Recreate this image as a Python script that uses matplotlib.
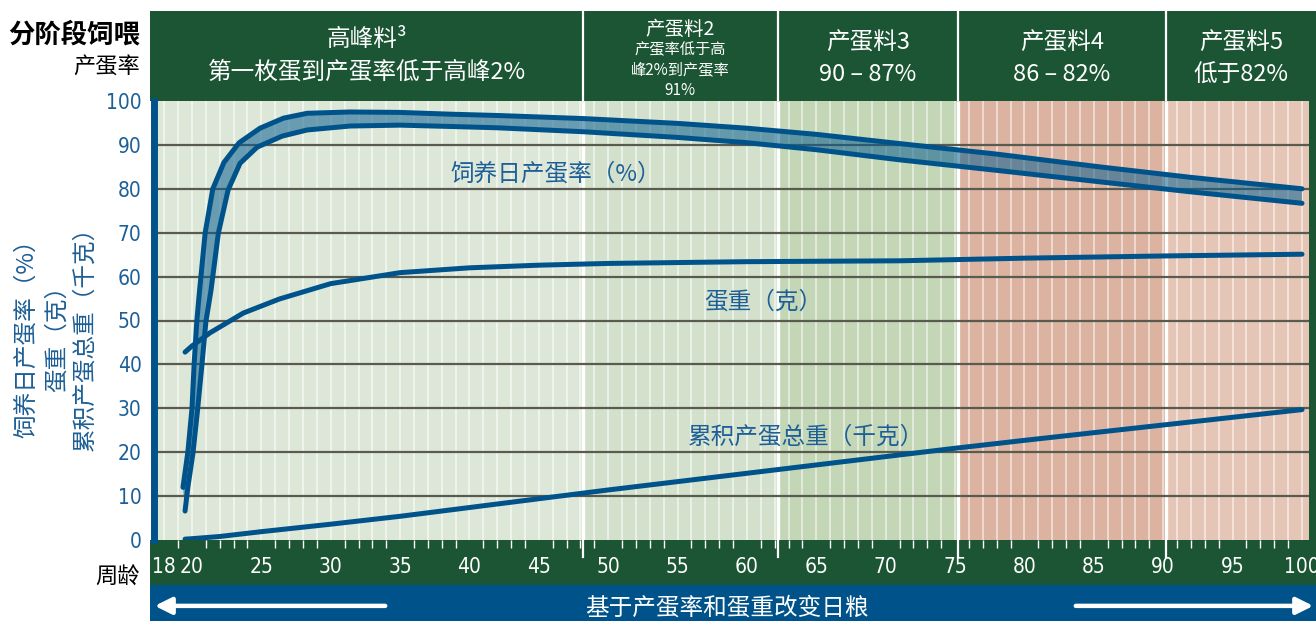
import numpy as np
import matplotlib.pyplot as plt
from matplotlib.patches import Rectangle

plt.rcParams['font.family'] = ['Noto Sans CJK SC', 'DejaVu Sans']

# ---- data ----
# daily egg production band, upper and lower curve (%)
weeks_up = [19.35, 19.7, 20.0, 20.15, 20.35, 20.55, 20.95, 21.5, 22.3, 23.4, 24.9, 26.6, 28.3, 31.4,
            35, 38.6, 42, 48.2, 55, 60, 65, 71, 78, 85.4, 92, 100]
prod_up = [12, 20, 30, 40, 50, 57, 70, 80, 86, 90.5, 93.8, 96.1, 97.2, 97.5,
           97.4, 97.0, 96.7, 96.0, 94.9, 93.8, 92.4, 90.3, 87.9, 85.0, 82.6, 80.0]
weeks_lo = [19.5, 19.7, 20.07, 20.4, 20.7, 21.0, 21.37, 21.9, 22.6, 23.46, 24.7, 26.5, 28.3, 31.4,
            35, 38.6, 42, 48.2, 55, 60, 65, 71, 78, 85.4, 92, 100]
prod_lo = [6.6, 12, 19.8, 29.6, 39.4, 49.7, 56.9, 69.9, 79.7, 85.8, 89.5, 92.0, 93.4, 94.3,
           94.5, 94.2, 93.9, 93.0, 91.7, 90.5, 88.9, 86.6, 84.2, 81.6, 79.3, 76.7]
# egg weight (g)
weeks_ew = [19.5, 20, 21.3, 23.7, 26.3, 30, 35, 40, 45, 50, 60, 71, 80, 90, 100]
egg_wt = [42.8, 44.2, 47.2, 51.7, 54.9, 58.4, 60.9, 62.0, 62.6, 63.0, 63.4, 63.6, 64.2, 64.7, 65.1]
# cumulative egg mass (kg)
weeks_cm = [19.5, 20, 22, 25, 30, 35, 40, 45, 50, 60, 70, 75, 80, 90, 100]
cum_mass = [0.2, 0.3, 0.8, 1.9, 3.6, 5.4, 7.4, 9.4, 11.4, 15.2, 19.0, 20.9, 22.7, 26.2, 29.7]

# feeding phases
phase_edges = [48.2, 62.2, 75.2, 90.2]
phase_bg = ['#dde7d8', '#d3e1cc', '#c3d6b6', '#dbb3a0', '#e5c6b6']
tick_weeks = [18, 20, 25, 30, 35, 40, 45, 50, 55, 60, 65, 70, 75, 80, 85, 90, 95, 100]

GREEN = '#1b5533'
BLUE = '#00538a'
TXT_BLUE = '#1d5f96'
NUM_FONT = dict(family='DejaVu Sans', stretch='condensed')

W = 1316
H = 621
def w_of(px):
    return 20 + (px - 192) / 13.875

def rect(l, t, r, b):
    return [l / W, 1 - b / H, (r - l) / W, (b - t) / H]

fig = plt.figure(figsize=(13.16, 6.21), dpi=100)

# header band
hx = fig.add_axes(rect(150, 11, 1316, 101))
hx.set_facecolor(GREEN)
hx.set_xlim(w_of(150), w_of(1316))
hx.set_ylim(0, 1)
hx.set_xticks([])
hx.set_yticks([])
for s in hx.spines.values():
    s.set_visible(False)
for e in phase_edges:
    hx.axvline(e, color='white', lw=1.6)
edges = [w_of(150)] + phase_edges + [w_of(1316)]
cx = [(edges[i] + edges[i + 1]) / 2 for i in range(5)]
hk = dict(color='white', ha='center', va='center')
hx.text(cx[0], 0.68, '高峰料³', fontsize=17, **hk)
hx.text(cx[0], 0.32, '第一枚蛋到产蛋率低于高峰2%', fontsize=17, **hk)
hx.text(cx[1], 0.80, '产蛋料2', fontsize=14, **hk)
hx.text(cx[1], 0.57, '产蛋率低于高', fontsize=11, **hk)
hx.text(cx[1], 0.35, '峰2%到产蛋率', fontsize=11, **hk)
hx.text(cx[1], 0.12, '91%', fontsize=11, **hk)
for i, (a, b) in enumerate([('产蛋料3', '90 – 87%'), ('产蛋料4', '86 – 82%'), ('产蛋料5', '低于82%')]):
    hx.text(cx[i + 2], 0.64, a, fontsize=17, **hk)
    hx.text(cx[i + 2], 0.29, b, fontsize=17, **hk)

# green week band
gx = fig.add_axes(rect(150, 540, 1316, 585))
gx.set_facecolor(GREEN)
gx.set_xlim(w_of(150), w_of(1316))
gx.set_ylim(0, 1)
gx.set_xticks([])
gx.set_yticks([])
for s in gx.spines.values():
    s.set_visible(False)
for e in phase_edges:
    gx.axvline(e, ymin=0.62, ymax=1, color='white', lw=1.6)

# blue bottom band
bx = fig.add_axes(rect(150, 585, 1316, 621))
bx.set_facecolor(BLUE)
bx.set_xlim(w_of(150), w_of(1316))
bx.set_ylim(0, 1)
bx.set_xticks([])
bx.set_yticks([])
for s in bx.spines.values():
    s.set_visible(False)
bx.text(w_of(727), 0.36, '基于产蛋率和蛋重改变日粮', color='white', fontsize=17, ha='center', va='center')
bx.annotate('', xy=(w_of(152), 0.42), xytext=(w_of(388), 0.42),
            arrowprops=dict(arrowstyle='-|>,head_length=1.0,head_width=0.5', color='white', lw=3.2))
bx.annotate('', xy=(w_of(1316), 0.42), xytext=(w_of(1073), 0.42),
            arrowprops=dict(arrowstyle='-|>,head_length=1.0,head_width=0.5', color='white', lw=3.2))

# main chart
ax = fig.add_axes(rect(154, 101, 1309, 540))
ax.set_xlim(w_of(154), w_of(1309))
ax.set_ylim(0, 100)
bounds = [w_of(154)] + phase_edges + [w_of(1309)]
for i in range(5):
    ax.axvspan(bounds[i], bounds[i + 1], color=phase_bg[i], lw=0, zorder=0)
ax.vlines(range(18, 101), 0, 100, color='white', alpha=0.6, lw=1.2, zorder=1)
ax.vlines(phase_edges, 0, 100, color='white', lw=2.4, zorder=1)
ax.hlines(range(10, 100, 10), w_of(154), w_of(1309), color='#595a50', lw=1.6, zorder=2)

ax.fill(np.concatenate([weeks_up, weeks_lo[::-1]]), np.concatenate([prod_up, prod_lo[::-1]]),
        color='#0a5f8f', alpha=0.55, lw=0, zorder=3)
lk = dict(color=BLUE, lw=3.6, solid_capstyle='round', solid_joinstyle='round', zorder=4)
ax.plot(weeks_up, prod_up, **lk)
ax.plot(weeks_lo, prod_lo, **lk)
ax.plot(weeks_ew, egg_wt, **lk)
ax.plot(weeks_cm, cum_mass, **lk)

tk = dict(color=TXT_BLUE, fontsize=17, ha='center', va='center', zorder=5)
ax.text(w_of(556), 83.4, '饲养日产蛋率（%）', **tk)
ax.text(w_of(763), 54.2, '蛋重（克）', **tk)
ax.text(w_of(806), 23.5, '累积产蛋总重（千克）', **tk)

ax.set_yticks(range(0, 101, 10))
ax.tick_params(axis='y', length=0, pad=9, labelcolor=TXT_BLUE, labelsize=15)
ax.set_xticks(tick_weeks)
ax.set_xticks(range(18, 101), minor=True)
ax.tick_params(axis='x', which='major', length=0, pad=12, labelcolor='white', labelsize=15)
ax.tick_params(axis='x', which='minor', length=6, width=1, color='white', direction='out')
for lbl in ax.get_xticklabels() + ax.get_yticklabels():
    lbl.set_fontfamily(NUM_FONT['family'])
    lbl.set_fontstretch(NUM_FONT['stretch'])
for s in ['top', 'right', 'bottom']:
    ax.spines[s].set_visible(False)
ax.spines['left'].set_color(BLUE)
ax.spines['left'].set_linewidth(5)
fig.add_artist(Rectangle((1309 / W, 1 - 540 / H), 7 / W, 439 / H, transform=fig.transFigure,
                         color=GREEN, lw=0))

# left side texts
fig.text(140 / W, 1 - 35 / H, '分阶段饲喂', fontsize=19, fontweight='bold', ha='right', va='center')
fig.text(140 / W, 1 - 66 / H, '产蛋率', fontsize=16, ha='right', va='center')
fig.text(140 / W, 1 - 577 / H, '周龄', fontsize=16, ha='right', va='center')
for x, s in [(27, '饲养日产蛋率（%）'), (57, '蛋重（克）'), (85, '累积产蛋总重（千克）')]:
    fig.text(x / W, 1 - 333 / H, s, rotation=90, color=TXT_BLUE, fontsize=17, ha='center', va='center')

fig.savefig('out.png', dpi=100)
